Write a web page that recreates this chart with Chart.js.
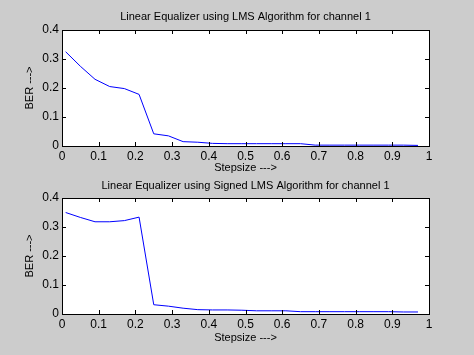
<!DOCTYPE html>
<html>
<head>
<meta charset="utf-8">
<script src="https://cdn.jsdelivr.net/npm/chart.js@4"></script>
<style>
  body { margin: 0; background: #cccccc; }
  #wrap { position: relative; width: 474px; height: 355px; background: #cccccc; }
  .box { position: absolute; left: 0; width: 474px; }
</style>
</head>
<body>
<div id="wrap">
  <div class="box" style="top:0;height:177px"><canvas id="top"></canvas></div>
  <div class="box" style="top:177px;height:178px"><canvas id="bottom"></canvas></div>
</div>
<script>
// stepsize values (x) and BER for each equalizer
var stepsize = [0.01, 0.05, 0.09, 0.13, 0.17, 0.21, 0.25, 0.29, 0.33, 0.37, 0.41, 0.45, 0.49,
                0.53, 0.57, 0.61, 0.65, 0.69, 0.73, 0.77, 0.81, 0.85, 0.89, 0.93, 0.97];
var berLMS = [0.325, 0.275, 0.230, 0.205, 0.198, 0.178, 0.042, 0.035, 0.015, 0.013, 0.009, 0.008, 0.008,
              0.008, 0.008, 0.008, 0.008, 0.003, 0.003, 0.003, 0.003, 0.003, 0.003, 0.003, 0.002];
var berSigned = [0.350, 0.333, 0.318, 0.318, 0.322, 0.334, 0.032, 0.027, 0.020, 0.015, 0.014, 0.014, 0.013,
                 0.011, 0.011, 0.011, 0.008, 0.008, 0.008, 0.008, 0.008, 0.008, 0.008, 0.007, 0.007];
var titulos = ["Linear Equalizer using LMS Algorithm for channel 1",
               "Linear Equalizer using Signed LMS Algorithm for channel 1"];

var fuente = "Arial, 'Liberation Sans', sans-serif";

// caja negra con ticks hacia dentro, estilo matlab
var cajaMatlab = {
  id: "cajaMatlab",
  beforeDraw: function (chart) {
    var a = chart.chartArea, ctx = chart.ctx;
    ctx.save();
    ctx.fillStyle = "#ffffff";
    ctx.fillRect(a.left, a.top, a.right - a.left, a.bottom - a.top);
    ctx.restore();
  },
  afterDraw: function (chart) {
    var a = chart.chartArea, ctx = chart.ctx;
    var xs = chart.scales.x, ys = chart.scales.y;
    ctx.save();
    ctx.strokeStyle = "#000000";
    ctx.lineWidth = 1;
    ctx.strokeRect(Math.round(a.left) + 0.5, Math.round(a.top) + 0.5,
                   Math.round(a.right - a.left), Math.round(a.bottom - a.top));
    ctx.beginPath();
    xs.ticks.forEach(function (t) {
      var px = Math.round(xs.getPixelForValue(t.value)) + 0.5;
      ctx.moveTo(px, a.bottom); ctx.lineTo(px, a.bottom - 4);
      ctx.moveTo(px, a.top); ctx.lineTo(px, a.top + 4);
    });
    ys.ticks.forEach(function (t) {
      var py = Math.round(ys.getPixelForValue(t.value)) + 0.5;
      ctx.moveTo(a.left, py); ctx.lineTo(a.left + 4, py);
      ctx.moveTo(a.right, py); ctx.lineTo(a.right - 4, py);
    });
    ctx.stroke();
    ctx.restore();
  }
};

function grafico(id, valores, titulo, cfg) {
  var puntos = [];
  for (var i = 0; i < stepsize.length; i++) {
    puntos.push({ x: stepsize[i], y: valores[i] });
  }
  return new Chart(document.getElementById(id), {
    type: "line",
    data: {
      datasets: [{
        data: puntos,
        borderColor: "#0000ff",
        borderWidth: 1,
        pointRadius: 0,
        tension: 0
      }]
    },
    plugins: [cajaMatlab],
    options: {
      responsive: true,
      maintainAspectRatio: false,
      animation: false,
      layout: { padding: { left: 0, right: 45, top: 0, bottom: 0 } },
      plugins: {
        legend: { display: false },
        tooltip: { enabled: false },
        title: {
          display: true,
          text: titulo,
          fullSize: false,
          color: "#000000",
          font: { family: fuente, size: 11, weight: "normal" },
          padding: cfg.titlePad
        }
      },
      scales: {
        x: {
          type: "linear",
          min: 0, max: 1,
          border: { display: false },
          grid: { display: false, drawTicks: false },
          ticks: {
            stepSize: 0.1,
            padding: 3,
            color: "#000000",
            font: { family: fuente, size: 12 },
            maxRotation: 0,
            callback: function (v) { return +v.toFixed(1); }
          },
          title: {
            display: true,
            text: "Stepsize --->",
            color: "#000000",
            font: { family: fuente, size: 11 },
            padding: { top: 0, bottom: cfg.xTitlePad }
          },
          afterFit: function (s) { s.height = cfg.xHeight; }
        },
        y: {
          min: 0, max: 0.4,
          border: { display: false },
          grid: { display: false, drawTicks: false },
          ticks: {
            stepSize: 0.1,
            padding: 3,
            color: "#000000",
            font: { family: fuente, size: 12 },
            callback: function (v) { return +v.toFixed(1); }
          },
          title: {
            display: true,
            text: "BER --->",
            color: "#000000",
            font: { family: fuente, size: 11 },
            padding: { top: 23.4, bottom: 0 }
          },
          afterFit: function (s) { s.width = 62; }
        }
      }
    }
  });
}

grafico("top", berLMS, titulos[0], {
  titlePad: { top: 10.4, bottom: 6.4 }, xHeight: 31, xTitlePad: 2.4
});
grafico("bottom", berSigned, titulos[1], {
  titlePad: { top: 2, bottom: 5.8 }, xHeight: 41, xTitlePad: 10.4
});
</script>
</body>
</html>
